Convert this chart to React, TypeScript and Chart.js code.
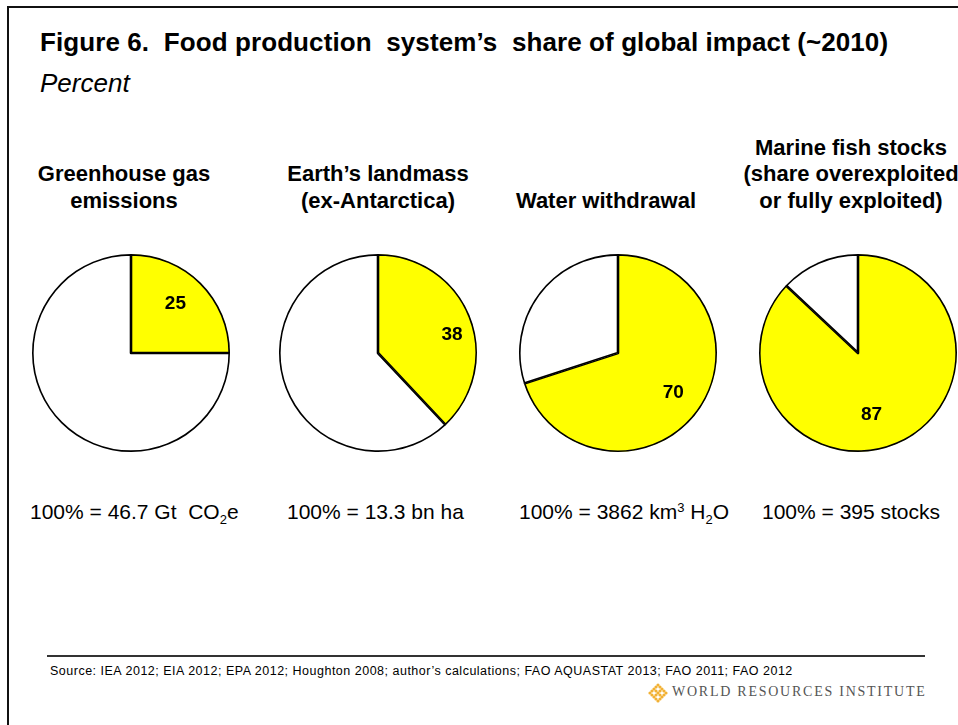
import React, { useEffect, useRef } from "react";
import { Chart, registerables } from "chart.js";

Chart.register(...registerables);

// ---------- data ----------
const titleText = "Figure 6.  Food production  system\u2019s  share of global impact (~2010)";
const unitText = "Percent";
const categoryTitles: string[][] = [
  ["Greenhouse gas", "emissions"],
  ["Earth\u2019s landmass", "(ex-Antarctica)"],
  ["Water withdrawal"],
  ["Marine fish stocks", "(share overexploited", "or fully exploited)"],
];
const foodShare = [25, 38, 70, 87];
const otherShare = [75, 62, 30, 13];
const sliceLabels = ["Food production system", "Other"];
const sliceColors = ["#FFFF00", "#FFFFFF"];
type Seg = { t: string; sub?: boolean; sup?: boolean };
const baseNotes: Seg[][] = [
  [{ t: "100% = 46.7 Gt  CO" }, { t: "2", sub: true }, { t: "e" }],
  [{ t: "100% = 13.3 bn ha" }],
  [{ t: "100% = 3862 km" }, { t: "3", sup: true }, { t: " H" }, { t: "2", sub: true }, { t: "O" }],
  [{ t: "100% = 395 stocks" }],
];
const sourceText =
  "Source: IEA 2012; EIA 2012; EPA 2012; Houghton 2008; author\u2019s calculations; FAO AQUASTAT 2013; FAO 2011; FAO 2012";
const brandText = "WORLD RESOURCES INSTITUTE";

// ---------- layout ----------
const pieCenters = [131, 378, 618, 858];
const pieCenterY = 353;
const pieRadius = 99;
const canvasSize = 220;
const labelRadiusFrac = [0.67, 0.77, 0.69, 0.64];
const labelAngleShiftDeg = [-3, 8, 0, 11];
const titleCenters = [124, 378, 606, 851];
const titleBottoms = [214, 214, 214, 214];
const noteLefts = [30, 287, 519, 762];
const font = "'Liberation Sans', Arial, sans-serif";

const makeValueLabelPlugin = (index: number) => ({
  id: "valueLabel",
  afterDatasetsDraw(chart: any) {
    const meta = chart.getDatasetMeta(0);
    const arc = meta.data[0];
    if (!arc) return;
    const { x, y, startAngle, endAngle, outerRadius } = arc.getProps(
      ["x", "y", "startAngle", "endAngle", "outerRadius"],
      true
    );
    const mid = (startAngle + endAngle) / 2 + (labelAngleShiftDeg[index] * Math.PI) / 180;
    const r = outerRadius * labelRadiusFrac[index];
    const ctx = chart.ctx;
    ctx.save();
    ctx.font = `bold 19px ${font}`;
    ctx.fillStyle = "#000";
    ctx.textAlign = "center";
    ctx.textBaseline = "middle";
    ctx.fillText(String(chart.data.datasets[0].data[0]), x + Math.cos(mid) * r, y + Math.sin(mid) * r);
    ctx.restore();
  },
});

function Pie({ index }: { index: number }) {
  const ref = useRef<HTMLCanvasElement>(null);
  useEffect(() => {
    if (!ref.current) return;
    const chart = new Chart(ref.current, {
      type: "pie",
      data: {
        labels: sliceLabels,
        datasets: [
          {
            data: [foodShare[index], otherShare[index]],
            backgroundColor: sliceColors,
            borderColor: "#000000",
            borderWidth: 1.3,
            borderAlign: "inner",
          } as any,
        ],
      },
      options: {
        responsive: false,
        animation: false,
        radius: pieRadius,
        layout: { padding: 0 },
        plugins: { legend: { display: false }, tooltip: { enabled: false } },
        events: [],
      } as any,
      plugins: [makeValueLabelPlugin(index)],
    });
    return () => chart.destroy();
  }, [index]);
  return (
    <canvas
      ref={ref}
      width={canvasSize}
      height={canvasSize}
      style={{
        position: "absolute",
        left: pieCenters[index] - canvasSize / 2,
        top: pieCenterY - canvasSize / 2,
        width: canvasSize,
        height: canvasSize,
      }}
    />
  );
}

export default function App() {
  return (
    <div
      style={{
        position: "absolute",
        left: 0,
        top: 0,
        width: 958,
        height: 725,
        background: "#fff",
        overflow: "hidden",
        fontFamily: font,
        color: "#000",
      }}
    >
      {/* frame */}
      <div style={{ position: "absolute", left: 7, top: 6, width: 951, height: 2, background: "#111" }} />
      <div style={{ position: "absolute", left: 7, top: 6, width: 2, height: 719, background: "#111" }} />

      <div
        style={{
          position: "absolute",
          left: 40,
          top: 27,
          fontSize: 26,
          fontWeight: "bold",
          whiteSpace: "pre",
          lineHeight: "30px",
          letterSpacing: "0.09px",
        }}
      >
        {titleText}
      </div>
      <div
        style={{
          position: "absolute",
          left: 40,
          top: 68,
          fontSize: 26,
          fontStyle: "italic",
          whiteSpace: "pre",
          lineHeight: "30px",
        }}
      >
        {unitText}
      </div>

      {categoryTitles.map((lines, i) => (
        <div
          key={i}
          style={{
            position: "absolute",
            left: titleCenters[i] - 120,
            width: 240,
            bottom: 725 - titleBottoms[i],
            textAlign: "center",
            fontSize: 22,
            fontWeight: "bold",
            lineHeight: "26.5px",
            whiteSpace: "pre",
          }}
        >
          {lines.map((l, j) => (
            <div key={j}>{l}</div>
          ))}
        </div>
      ))}

      {foodShare.map((_, i) => (
        <Pie key={i} index={i} />
      ))}

      {baseNotes.map((segs, i) => (
        <div
          key={i}
          style={{
            position: "absolute",
            left: noteLefts[i],
            top: 499,
            fontSize: 21,
            whiteSpace: "pre",
            lineHeight: "26px",
          }}
        >
          {segs.map((s, j) =>
            s.sub ? (
              <span key={j} style={{ fontSize: 13, position: "relative", top: 5 }}>
                {s.t}
              </span>
            ) : s.sup ? (
              <span key={j} style={{ fontSize: 13, position: "relative", top: -7 }}>
                {s.t}
              </span>
            ) : (
              <span key={j}>{s.t}</span>
            )
          )}
        </div>
      ))}

      {/* footer */}
      <div style={{ position: "absolute", left: 47, top: 655, width: 878, height: 2, background: "#333" }} />
      <div
        style={{
          position: "absolute",
          left: 50,
          top: 664,
          fontSize: 12.5,
          whiteSpace: "pre",
          lineHeight: "14px",
          letterSpacing: "0.5px",
        }}
      >
        {sourceText}
      </div>
      <svg
        style={{ position: "absolute", left: 648, top: 683 }}
        width={20}
        height={20}
        viewBox="0 0 20 20"
      >
        {[
          [10, 2], [6, 6], [14, 6], [2, 10], [10, 10], [18, 10], [6, 14], [14, 14], [10, 18],
          [8, 4], [12, 4], [4, 8], [8, 8], [12, 8], [16, 8], [4, 12], [8, 12], [12, 12], [16, 12], [8, 16], [12, 16],
        ].map(([cx, cy], k) => (
          <circle key={k} cx={cx} cy={cy} r={1.6} fill="#F2B134" />
        ))}
      </svg>
      <div
        style={{
          position: "absolute",
          left: 672,
          top: 683,
          fontSize: 14,
          fontFamily: "'Liberation Serif', serif",
          letterSpacing: "1.75px",
          color: "#555",
          whiteSpace: "pre",
          lineHeight: "18px",
        }}
      >
        {brandText}
      </div>
    </div>
  );
}
